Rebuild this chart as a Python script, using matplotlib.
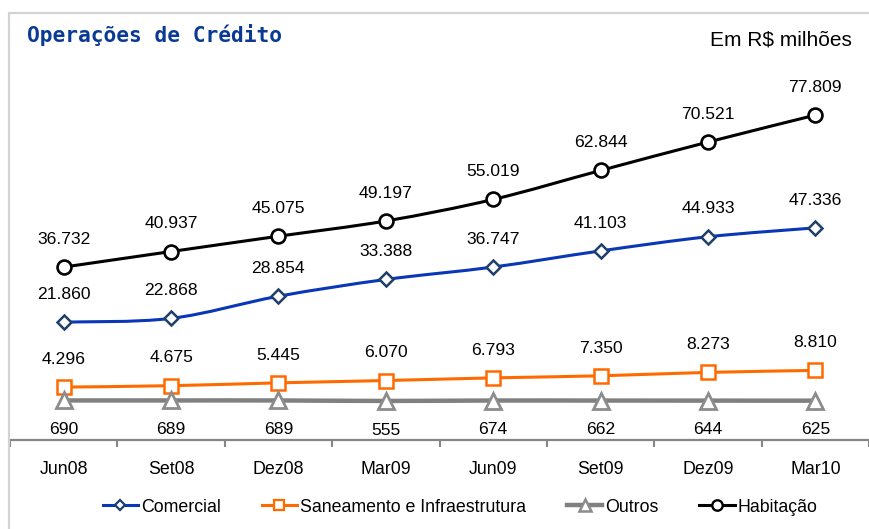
import numpy as np
import matplotlib.pyplot as plt
from matplotlib.path import Path
from matplotlib.patches import PathPatch, Rectangle
from matplotlib.lines import Line2D

# Dados (R$ milhões)
periodos = ['Jun08', 'Set08', 'Dez08', 'Mar09', 'Jun09', 'Set09', 'Dez09', 'Mar10']
comercial = [21860, 22868, 28854, 33388, 36747, 41103, 44933, 47336]
saneamento = [4296, 4675, 5445, 6070, 6793, 7350, 8273, 8810]
outros = [690, 689, 689, 555, 674, 662, 644, 625]
habitacao = [36732, 40937, 45075, 49197, 55019, 62844, 70521, 77809]

plt.rcParams['font.family'] = ['Liberation Sans', 'DejaVu Sans']

W, H = 869, 529
fig = plt.figure(figsize=(W / 100, H / 100), dpi=100)
ax = fig.add_axes([10 / W, 1 - 440 / H, 859 / W, (440 - 33) / H])


def fmt(v):
    return f'{v:,}'.replace(',', '.')


def suave(ax, ys, cor, lw, z):
    # linha suavizada (Catmull-Rom -> Bezier), como no Excel
    pts = np.column_stack([np.arange(len(ys)), np.asarray(ys, float)])
    verts = [pts[0]]
    codes = [Path.MOVETO]
    n = len(pts)
    for i in range(n - 1):
        p0 = pts[max(i - 1, 0)]
        p1 = pts[i]
        p2 = pts[i + 1]
        p3 = pts[min(i + 2, n - 1)]
        c1 = p1 + (p2 - p0) / 6
        c2 = p2 - (p3 - p1) / 6
        verts += [c1, c2, p2]
        codes += [Path.CURVE4] * 3
    ax.add_patch(PathPatch(Path(verts, codes), fill=False, edgecolor=cor,
                           lw=lw, zorder=z, capstyle='round', joinstyle='round'))


series = [
    ('Comercial', comercial, '#0A37B8', 'D', 7, '#1F3F6B', 2.2, 1.8, 'up'),
    ('Saneamento e Infraestrutura', saneamento, '#FF6A00', 's', 10, '#FF6A00', 2.2, 1.8, 'up'),
    ('Outros', outros, '#808080', '^', 11, '#8C8C8C', 3.2, 2.0, 'down'),
    ('Habitação', habitacao, '#000000', 'o', 10, '#000000', 2.2, 1.9, 'up'),
]

x = np.arange(len(periodos))
handles = []
for k, (nome, ys, cor, mk, ms, mec, lw, mew, pos) in enumerate(series):
    z = 3 + k
    suave(ax, ys, cor, lw, z)
    ax.plot(x, ys, linestyle='none', marker=mk, ms=ms, mfc='white', mec=mec,
            mew=mew, zorder=z + 0.5, clip_on=False)
    dy = 20 if pos == 'up' else -21
    for xi, v in zip(x, ys):
        ax.annotate(fmt(v), (xi, v), xytext=(0, dy), textcoords='offset points',
                    ha='center', va='center', fontsize=12.6, color='black')
    handles.append(Line2D([], [], color=cor, lw=lw, marker=mk, ms=ms * 0.75,
                          mfc='white', mec=mec, mew=mew * 0.9, label=nome))

ax.set_xlim(-0.5, len(periodos) - 0.5)
ax.set_ylim(-10000, 100000)
ax.set_xticks(x)
ax.set_xticklabels(periodos, fontsize=12.8)
ax.set_xticks(np.arange(-0.5, len(periodos)), minor=True)
ax.tick_params(axis='x', which='major', length=0, pad=15)
ax.tick_params(axis='x', which='minor', length=5, width=1.5, color='#868686')
ax.set_yticks([])
for s in ['top', 'right', 'left']:
    ax.spines[s].set_visible(False)
ax.spines['bottom'].set_color('#868686')
ax.spines['bottom'].set_linewidth(1.6)

# moldura cinza da figura
fig.patches.append(Rectangle((9 / W, -0.05), 1.0, 1 - 13 / H + 0.05,
                             transform=fig.transFigure, fill=False,
                             edgecolor='#D3D3D3', lw=1.6, zorder=0))

fig.text(27 / W, 1 - 42 / H, 'Operações de Crédito', family='DejaVu Sans Mono',
         fontweight='bold', fontsize=15.3, color='#0A3A94', va='baseline')
fig.text(852 / W, 1 - 46 / H, 'Em R$ milhões', fontsize=15, ha='right',
         va='baseline')

fig.legend(handles=handles, loc='center', bbox_to_anchor=(460 / W, 1 - 507 / H),
           ncol=4, frameon=False, fontsize=12.8, handlelength=2.0,
           handletextpad=0.15, columnspacing=2.3)

fig.savefig('out.png', dpi=100)
